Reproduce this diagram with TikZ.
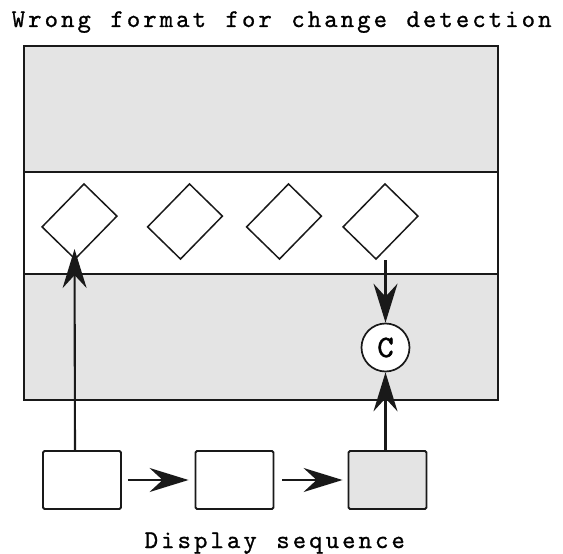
\documentclass[tikz,border=0pt]{standalone}
\usepackage{fontspec}
\usetikzlibrary{arrows.meta}
\definecolor{band}{RGB}{228,228,228}
\definecolor{ink}{RGB}{25,25,25}
\newfontfamily\heavytt{lmmono10-regular}[Extension=.otf, FakeBold=1.8]
\newfontfamily\labeltt{lmmono10-regular}[Extension=.otf, FakeBold=0.9]
\newlength{\charpitch}
\setlength{\charpitch}{16.45pt}
% typewriter text with a fixed pitch per character
\ExplSyntaxOn
\NewDocumentCommand\pitched{m}
  { \str_map_inline:nn {#1} { \makebox[\charpitch][c]{##1} } }
\ExplSyntaxOff
\begin{document}
\begin{tikzpicture}[x=1pt,y=1pt,
  frame/.style={draw=ink, line width=1.9pt},
  state/.style={draw=ink, line width=1.5pt, minimum width=60pt,
    minimum height=46pt, inner sep=0pt, rotate=45.7},
  frameitem/.style={draw=ink, line width=1.9pt, rounded corners=1.5pt,
    minimum width=78pt, minimum height=58pt, inner sep=0pt},
  cmp/.style={circle, draw=ink, fill=white, line width=1.7pt,
    minimum size=48pt, inner sep=0pt, font=\heavytt\fontsize{31}{31}\selectfont},
  flow/.style={ink, line width=2.1pt,
    -{Stealth[length=39pt, width=24pt, inset=13pt]}},
  caption/.style={inner sep=0pt, anchor=base west,
    font=\labeltt\fontsize{25.5}{25.5}\selectfont}]
\useasboundingbox (0,0) rectangle (563,-554);

% buffer with three bands
\draw[frame, fill=band]  (24,-46)  rectangle (498,-172);
\draw[frame, fill=white] (24,-172) rectangle (498,-274);
\draw[frame, fill=band]  (24,-274) rectangle (498,-400);

% tilted frames in the middle band
\node[state] (d1) at (79.5,-221.5) {};
\node[state] (d2) at (185,-221.5) {};
\node[state] (d3) at (284,-221.5) {};
\node[state] (d4) at (380.5,-221.5) {};

% comparison node
\node[cmp] (c) at (385.5,-347.5) {C};

% display sequence
\node[frameitem, fill=white] (b1) at (82,-480) {};
\node[frameitem, fill=white] (b2) at (234.5,-480) {};
\node[frameitem, fill=band]  (b3) at (387.5,-480) {};

\draw[flow] ([xshift=6pt]b1.east) -- ([xshift=-6pt]b2.west);
\draw[flow] ([xshift=8pt]b2.east) -- ([xshift=-5pt]b3.west);

\coordinate (up1) at (75,-451);
\draw[flow] (up1) -- ([xshift=-0.5pt, yshift=11pt]d1.south west);
\draw[flow] (c.north |- d4.south west) -- (c.north);
\draw[flow] (c.south |- b3.north) -- (c.south);

% labels
\node[caption] (title) at (10,-27) {\pitched{Wrong format for change detection}};
\node[caption] (seq) at (143,-548) {\pitched{Display sequence}};
\end{tikzpicture}
\end{document}
